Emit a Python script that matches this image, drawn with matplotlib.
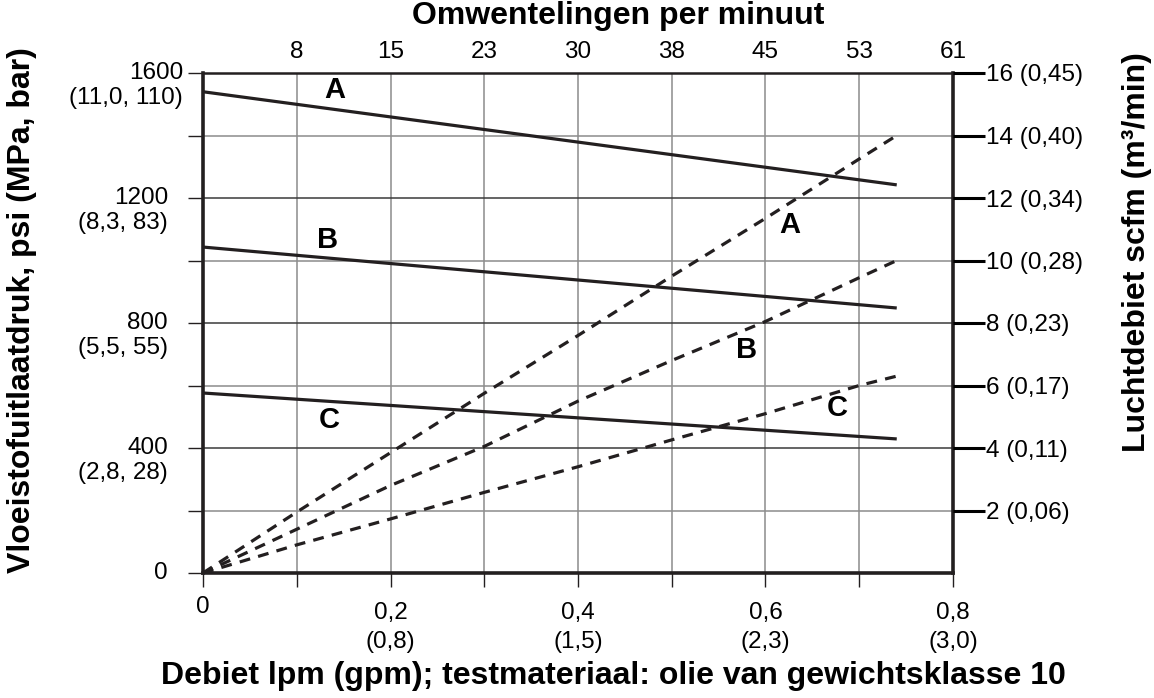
import matplotlib
matplotlib.use('Agg')
import matplotlib.pyplot as plt
import matplotlib.transforms as mtransforms

plt.rcParams['font.family'] = ['Liberation Sans', 'DejaVu Sans']

# ---------------- data ----------------
flow_ticks = [0, 0.1, 0.2, 0.3, 0.4, 0.5, 0.6, 0.7, 0.8]
flow_label_pos = [0, 0.2, 0.4, 0.6, 0.8]
flow_labels = ['0', '0,2', '0,4', '0,6', '0,8']
flow_gpm = ['', '(0,8)', '(1,5)', '(2,3)', '(3,0)']

rpm_pos = [0.1, 0.2, 0.3, 0.4, 0.5, 0.6, 0.7, 0.8]
rpm_labels = ['8', '15', '23', '30', '38', '45', '53', '61']

psi_grid = [0, 200, 400, 600, 800, 1000, 1200, 1400, 1600]
psi_label_pos = [0, 400, 800, 1200, 1600]
psi_labels = ['0', '400', '800', '1200', '1600']
psi_metric = ['', '(2,8, 28)', '(5,5, 55)', '(8,3, 83)', '(11,0, 110)']

scfm_ticks = [2, 4, 6, 8, 10, 12, 14, 16]
scfm_labels = ['2 (0,06)', '4 (0,11)', '6 (0,17)', '8 (0,23)',
               '10 (0,28)', '12 (0,34)', '14 (0,40)', '16 (0,45)']

# fluid outlet pressure (psi) vs flow (lpm)
pressure_x = [0, 0.74]
pressure_A = [1540, 1242]
pressure_B = [1043, 848]
pressure_C = [576, 429]

# air consumption (scfm) vs flow (lpm)
air_x = [0, 0.1, 0.2, 0.3, 0.4, 0.5, 0.6, 0.7, 0.74]
air_A = [0, 1.95, 3.85, 5.75, 7.6, 9.5, 11.35, 13.25, 14.0]
air_B = [0, 1.4, 2.8, 4.05, 5.5, 6.8, 8.05, 9.45, 10.0]
air_C = [0, 0.9, 1.73, 2.58, 3.4, 4.26, 5.1, 6.0, 6.3]

# ---------------- figure ----------------
W, H = 1154, 698
fig = plt.figure(figsize=(W / 100, H / 100), dpi=100)
L, R, T, B = 203, 953, 73, 573
ax = fig.add_axes([L / W, 1 - B / H, (R - L) / W, (B - T) / H])
ax.set_xlim(0, 0.8)
ax.set_ylim(0, 1600)

dark = '#231f20'
gridc = '#8c8c8c'
TFS = 17.5
LFS = 23

# grid
for xv in flow_ticks[1:-1]:
    ax.axvline(xv, color=gridc, lw=1.1, zorder=1)
for yv in psi_grid[1:-1]:
    c = '#3a3a3a' if yv in psi_label_pos else gridc
    ax.axhline(yv, color=c, lw=1.1, zorder=1)

ax.set_xticks(flow_ticks)
ax.set_xticklabels([])
ax.set_yticks(psi_grid)
ax.set_yticklabels([])
ax.tick_params(axis='x', direction='out', length=10, width=1.0, color=dark)
ax.tick_params(axis='y', direction='out', length=11, width=1.0, color=dark)

for s in ax.spines.values():
    s.set_linewidth(2.6)
    s.set_color(dark)
ax.spines['top'].set_linewidth(1.8)

# solid pressure lines
for yv in (pressure_A, pressure_B, pressure_C):
    ax.plot(pressure_x, yv, color=dark, lw=2.3, solid_capstyle='butt', zorder=4)

# right axis for air flow
ax2 = ax.twinx()
ax2.set_ylim(0, 16)
ax2.set_yticks(scfm_ticks)
ax2.set_yticklabels(scfm_labels, fontsize=TFS)
ax2.tick_params(axis='y', direction='out', length=23, width=2.2, color='black', pad=1)
for s in ax2.spines.values():
    s.set_visible(False)
for yv in (air_A, air_B, air_C):
    ax2.plot(air_x, yv, color=dark, lw=2.3, linestyle=(0, (3.4, 2.6)), zorder=4)

# top axis (rpm)
sec = ax.secondary_xaxis('top')
sec.set_xticks(rpm_pos)
sec.set_xticklabels(rpm_labels, fontsize=TFS)
sec.tick_params(length=0, pad=7)
sec.spines['top'].set_visible(False)

# bottom tick labels
tb = mtransforms.blended_transform_factory(ax.transData, ax.transAxes)
for xv, lab, g in zip(flow_label_pos, flow_labels, flow_gpm):
    dy = -34 if lab == '0' else -40
    ax.text(xv, 0, lab, fontsize=TFS, ha='center', va='center',
            transform=mtransforms.offset_copy(tb, fig, y=dy, units='dots'))
    if g:
        ax.text(xv, 0, g, fontsize=TFS, ha='center', va='center',
                transform=mtransforms.offset_copy(tb, fig, y=-69, units='dots'))

# left tick labels
tl = mtransforms.blended_transform_factory(ax.transAxes, ax.transData)
for yv, lab, m in zip(psi_label_pos, psi_labels, psi_metric):
    dx = -20 if yv == 1600 else -35
    ax.text(0, yv, lab, fontsize=TFS, ha='right', va='center',
            transform=mtransforms.offset_copy(tl, fig, x=dx, y=0, units='dots'))
    if m:
        ax.text(0, yv, m, fontsize=TFS, ha='right', va='center',
                transform=mtransforms.offset_copy(tl, fig, x=dx, y=-25, units='dots'))

# curve labels
lab_kw = dict(fontsize=21, fontweight='bold', ha='center', va='center', zorder=5)
ax.text(0.141, 1546, 'A', **lab_kw)
ax.text(0.133, 1066, 'B', **lab_kw)
ax.text(0.135, 490, 'C', **lab_kw)
ax.text(0.626, 1114, 'A', **lab_kw)
ax.text(0.580, 714, 'B', **lab_kw)
ax.text(0.677, 528, 'C', **lab_kw)

# axis titles
fig.text(618 / W, 1 - 24 / H, 'Omwentelingen per minuut',
         fontsize=LFS, fontweight='bold', ha='center', va='baseline')
fig.text(22 / W, 1 - 310 / H, 'Vloeistofuitlaatdruk, psi (MPa, bar)', rotation=90,
         fontsize=LFS, fontweight='bold', ha='center', va='center')
fig.text(1137 / W, 1 - 252 / H, 'Luchtdebiet scfm (m³/min)', rotation=90,
         fontsize=LFS, fontweight='bold', ha='center', va='center')
fig.text(613 / W, 1 - 676 / H, 'Debiet lpm (gpm); testmateriaal: olie van gewichtsklasse 10',
         fontsize=LFS, fontweight='bold', ha='center', va='center')

fig.savefig('out.png', dpi=100)
